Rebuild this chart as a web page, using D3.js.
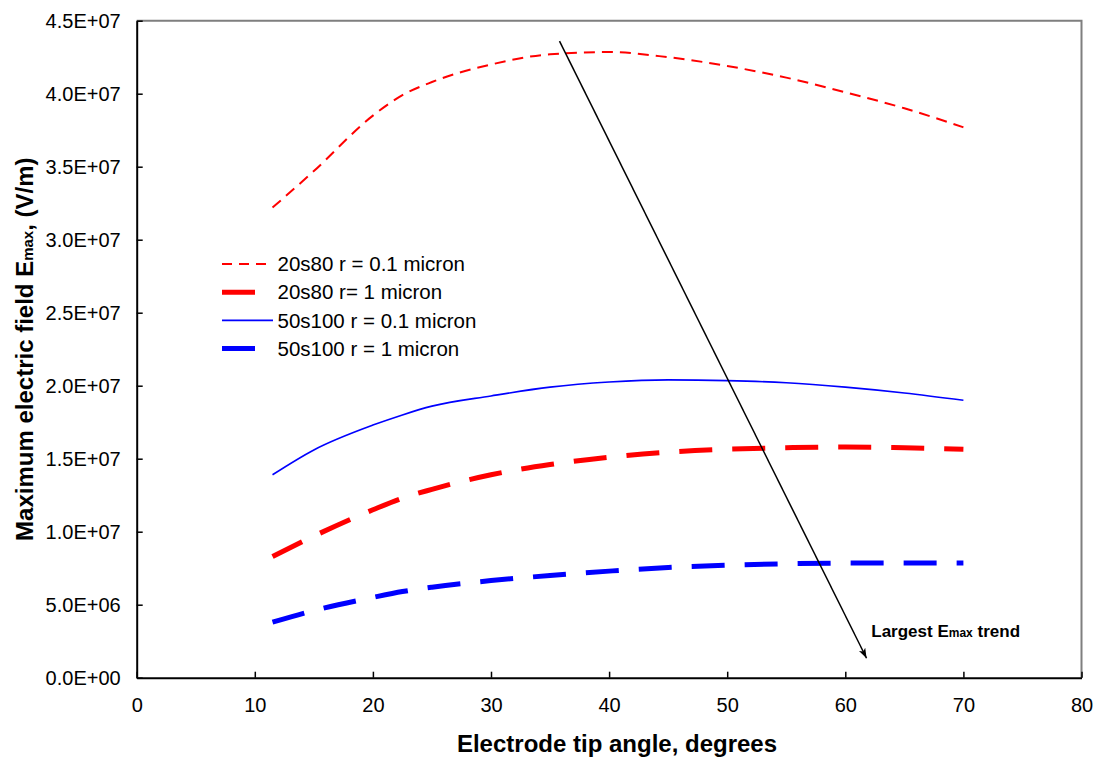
<!DOCTYPE html>
<html>
<head>
<meta charset="utf-8">
<script src="https://cdn.jsdelivr.net/npm/d3@7/dist/d3.min.js"></script>
<style>
  html, body { margin: 0; padding: 0; background: #fff; }
  svg { display: block; font-family: Arial, "Liberation Sans", sans-serif; }
</style>
</head>
<body>
<svg id="chart" width="1096" height="757"></svg>
<script>
// Electrode tip angle (degrees) at which Emax was evaluated
const angles = [11.5, 15, 20, 22.5, 25, 30, 35, 40, 45, 50, 55, 60, 65, 70];

// Maximum electric field Emax (V/m) for each geometry / tip radius
const e20s80_r01 = [3.22e7, 3.47e7, 3.85e7, 3.99e7, 4.08e7, 4.20e7, 4.27e7, 4.285e7, 4.25e7, 4.19e7, 4.11e7, 4.01e7, 3.90e7, 3.77e7];
const e20s80_r1  = [0.83e7, 0.97e7, 1.15e7, 1.23e7, 1.29e7, 1.39e7, 1.46e7, 1.51e7, 1.545e7, 1.565e7, 1.575e7, 1.58e7, 1.575e7, 1.565e7];
const e50s100_r01 = [1.39e7, 1.56e7, 1.73e7, 1.80e7, 1.86e7, 1.93e7, 1.99e7, 2.025e7, 2.04e7, 2.035e7, 2.02e7, 1.99e7, 1.95e7, 1.90e7];
const e50s100_r1  = [0.38e7, 0.46e7, 0.55e7, 0.59e7, 0.62e7, 0.665e7, 0.70e7, 0.73e7, 0.755e7, 0.77e7, 0.78e7, 0.785e7, 0.785e7, 0.785e7];

const seriesNames = ["20s80 r = 0.1 micron", "20s80 r= 1 micron", "50s100 r = 0.1 micron", "50s100 r = 1 micron"];

// Axis ticks
const xTicks = [0, 10, 20, 30, 40, 50, 60, 70, 80];
const yTicks = [0, 5e6, 1e7, 1.5e7, 2e7, 2.5e7, 3e7, 3.5e7, 4e7, 4.5e7];

// Trend arrow (angle, Emax) from start to head
const trendArrowX = [35.8, 61.8];
const trendArrowY = [4.36e7, 0.133e7];

const svg = d3.select("#chart");

const plot = { left: 136.7, right: 1081.5, top: 20.7, bottom: 677.7 };

const x = d3.scaleLinear().domain([0, 80]).range([plot.left, plot.right]);
const y = d3.scaleLinear().domain([0, 4.5e7]).range([plot.bottom, plot.top]);

// Excel-style scientific labels, e.g. 4.5E+07
function sci(v) {
  if (v === 0) return "0.0E+00";
  const exp = Math.floor(Math.log10(Math.abs(v)));
  const mant = v / Math.pow(10, exp);
  const sign = exp < 0 ? "-" : "+";
  return mant.toFixed(1) + "E" + sign + String(Math.abs(exp)).padStart(2, "0");
}

// Plot frame: top and right edges
svg.append("path")
  .attr("d", `M${plot.left},${plot.top}H${plot.right}V${plot.bottom}`)
  .attr("fill", "none")
  .attr("stroke", "#7f7f7f")
  .attr("stroke-width", 2);

// Axes with inward ticks
const xAxis = d3.axisBottom(x).tickValues(xTicks).tickSizeInner(-6).tickSizeOuter(0).tickPadding(20);
const yAxis = d3.axisLeft(y).tickValues(yTicks).tickFormat(sci).tickSizeInner(-6).tickSizeOuter(0).tickPadding(16);

const gx = svg.append("g").attr("transform", `translate(0,${plot.bottom})`).call(xAxis);
const gy = svg.append("g").attr("transform", `translate(${plot.left},0)`).call(yAxis);

[gx, gy].forEach(g => {
  g.select(".domain").attr("stroke", "#000").attr("stroke-width", 2);
  g.selectAll(".tick line").attr("stroke", "#000").attr("stroke-width", 1.5);
  g.selectAll(".tick text")
    .attr("fill", "#000")
    .style("font-family", "Arial, 'Liberation Sans', sans-serif")
    .style("font-size", "20px");
});
gx.selectAll(".tick text").attr("dy", "0.71em");

// Series lines
const series = [
  { values: e20s80_r01, color: "#ff0000", width: 2, dash: "11,7" },
  { values: e20s80_r1, color: "#ff0000", width: 5, dash: "33,20" },
  { values: e50s100_r01, color: "#0000ff", width: 1.6, dash: null },
  { values: e50s100_r1, color: "#0000ff", width: 5, dash: "33,20" }
];

const line = d3.line()
  .x(d => x(d[0]))
  .y(d => y(d[1]))
  .curve(d3.curveMonotoneX);

series.forEach(s => {
  svg.append("path")
    .datum(angles.map((a, i) => [a, s.values[i]]))
    .attr("d", line)
    .attr("fill", "none")
    .attr("stroke", s.color)
    .attr("stroke-width", s.width)
    .attr("stroke-dasharray", s.dash);
});

// Trend arrow
const defs = svg.append("defs");
defs.append("marker")
  .attr("id", "arrowhead")
  .attr("viewBox", "0 0 10 10")
  .attr("refX", 10).attr("refY", 5)
  .attr("markerWidth", 10).attr("markerHeight", 10)
  .attr("markerUnits", "userSpaceOnUse")
  .attr("orient", "auto")
  .append("path")
  .attr("d", "M0,1.5 L10,5 L0,8.5 L2.5,5 Z")
  .attr("fill", "#000");

svg.append("line")
  .attr("x1", x(trendArrowX[0])).attr("y1", y(trendArrowY[0]))
  .attr("x2", x(trendArrowX[1])).attr("y2", y(trendArrowY[1]))
  .attr("stroke", "#000")
  .attr("stroke-width", 1.5)
  .attr("marker-end", "url(#arrowhead)");

const note = svg.append("text")
  .attr("x", x(62.2)).attr("y", y(0.279e7))
  .attr("font-weight", "bold")
  .attr("font-size", 17)
  .attr("fill", "#000");
note.append("tspan").text("Largest E");
note.append("tspan").attr("font-size", 12).text("max");
note.append("tspan").text(" trend");

// Legend
const legend = svg.append("g").attr("transform", "translate(222,264)");
const legendRows = [
  { len: 47 }, { len: 35 }, { len: 51 }, { len: 35 }
];
series.forEach((s, i) => {
  const row = legend.append("g").attr("transform", `translate(0,${i * 28.2})`);
  row.append("line")
    .attr("x1", 0).attr("x2", legendRows[i].len)
    .attr("y1", 0).attr("y2", 0)
    .attr("stroke", s.color)
    .attr("stroke-width", s.width)
    .attr("stroke-dasharray", s.dash === "11,7" ? "10,7" : s.dash);
  row.append("text")
    .attr("x", 55.5).attr("y", 0).attr("dy", "0.35em")
    .attr("font-size", 20.5)
    .attr("fill", "#000")
    .text(seriesNames[i]);
});

// Axis titles
svg.append("text")
  .attr("x", 617)
  .attr("y", 752)
  .attr("text-anchor", "middle")
  .attr("font-weight", "bold")
  .attr("font-size", 24)
  .attr("fill", "#000")
  .text("Electrode tip angle, degrees");

const yTitle = svg.append("text")
  .attr("transform", `translate(33,${(plot.top + plot.bottom) / 2}) rotate(-90)`)
  .attr("text-anchor", "middle")
  .attr("font-weight", "bold")
  .attr("font-size", 24)
  .attr("fill", "#000");
yTitle.append("tspan").text("Maximum electric field E");
yTitle.append("tspan").attr("font-size", 15).text("max");
yTitle.append("tspan").text(", (V/m)");
</script>
</body>
</html>
